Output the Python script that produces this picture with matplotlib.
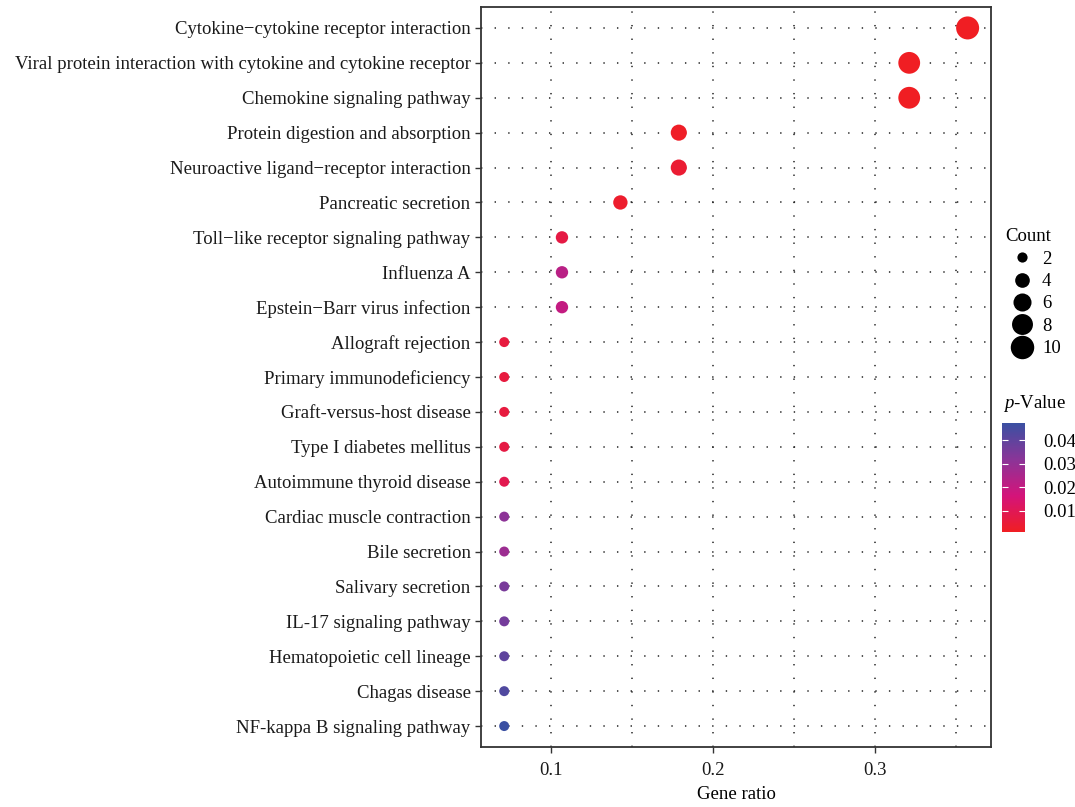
import numpy as np
import matplotlib
matplotlib.use("Agg")
import matplotlib.pyplot as plt
from matplotlib.colors import LinearSegmentedColormap, Normalize
from matplotlib.lines import Line2D

plt.rcParams['font.family'] = ['Liberation Serif', 'DejaVu Serif']
plt.rcParams['mathtext.fontset'] = 'custom'
plt.rcParams['mathtext.rm'] = 'Liberation Serif'
plt.rcParams['mathtext.it'] = 'Liberation Serif:italic'
FS = 13.5
plt.rcParams['font.size'] = FS

# pathways, top to bottom
pathways = [
    "Cytokine\u2212cytokine receptor interaction",
    "Viral protein interaction with cytokine and cytokine receptor",
    "Chemokine signaling pathway",
    "Protein digestion and absorption",
    "Neuroactive ligand\u2212receptor interaction",
    "Pancreatic secretion",
    "Toll\u2212like receptor signaling pathway",
    "Influenza A",
    "Epstein\u2212Barr virus infection",
    "Allograft rejection",
    "Primary immunodeficiency",
    "Graft-versus-host disease",
    "Type I diabetes mellitus",
    "Autoimmune thyroid disease",
    "Cardiac muscle contraction",
    "Bile secretion",
    "Salivary secretion",
    "IL-17 signaling pathway",
    "Hematopoietic cell lineage",
    "Chagas disease",
    "NF-kappa B signaling pathway",
]
counts = [10, 9, 9, 5, 5, 4, 3, 3, 3, 2, 2, 2, 2, 2, 2, 2, 2, 2, 2, 2, 2]
gene_ratio = [0.357, 0.321, 0.321, 0.179, 0.179, 0.143, 0.107, 0.107, 0.107,
              0.0714, 0.0714, 0.0714, 0.0714, 0.0714, 0.0714, 0.0714, 0.0714,
              0.0714, 0.0714, 0.0714, 0.0714]
p_values = [0.0006, 0.0010, 0.0010, 0.0020, 0.0040, 0.0030, 0.0070, 0.0220,
            0.0200, 0.0060, 0.0060, 0.0060, 0.0070, 0.0090, 0.0310, 0.0280,
            0.0350, 0.0360, 0.0400, 0.0430, 0.0470]

size_legend = [2, 4, 6, 8, 10]
p_ticks = [0.01, 0.02, 0.03, 0.04]

cmap = LinearSegmentedColormap.from_list(
    "pv", ["#F01E23", "#D4147A", "#8A3598", "#3A50A2"])
norm = Normalize(vmin=0.0011, vmax=0.0472)

px = 0.72  # points per pixel at dpi 100


def diam(c):
    # area-style scale: sqrt(count) rescaled onto a diameter range (pixels)
    lo, hi = np.sqrt(2), np.sqrt(10)
    f = (np.sqrt(c) - lo) / (hi - lo)
    return 10 + f * (23 - 10)


fig = plt.figure(figsize=(10.75, 8.07), dpi=100)
ax = fig.add_axes([481 / 1075, 1 - 747 / 807, 510 / 1075, 740 / 807])

ypos = np.arange(len(pathways))
sizes = [(diam(c) * px) ** 2 for c in counts]
ax.scatter(gene_ratio, ypos, s=sizes, c=p_values, cmap=cmap, norm=norm,
           edgecolors='none', zorder=3)

ax.set_yticks(ypos)
ax.set_yticklabels(pathways)
ax.set_ylim(len(pathways) - 0.4, -0.6)
ax.set_xlim(0.0571, 0.3714)
ax.set_xticks([0.1, 0.2, 0.3])
ax.set_xticklabels(["0.1", "0.2", "0.3"])
ax.set_xticks([0.15, 0.25, 0.35], minor=True)
ax.set_xlabel("Gene ratio", labelpad=5)

dots = (0, (0.9, 8))
ax.grid(True, which='both', axis='x', color='#222222', linewidth=1.1, linestyle=dots)
ax.grid(True, which='major', axis='y', color='#222222', linewidth=1.1, linestyle=dots)
ax.set_axisbelow(True)
ax.tick_params(axis='both', which='major', length=4, width=1, color='#333333',
               labelcolor='#1a1a1a', labelsize=FS)
ax.tick_params(axis='x', which='minor', length=0)
ax.tick_params(axis='x', pad=7)
for sp in ax.spines.values():
    sp.set_linewidth(1.3)
    sp.set_color('#333333')

# size legend
handles = [Line2D([], [], marker='o', linestyle='none', color='black',
                  markeredgewidth=0, markersize=diam(c) * px * 1.02)
           for c in size_legend]
leg = fig.legend(handles, [str(c) for c in size_legend], title="Count",
                 loc='upper left', bbox_to_anchor=(996 / 1075, 1 - 219 / 807),
                 frameon=False, fontsize=FS, title_fontsize=FS,
                 handletextpad=0.15, labelspacing=0.28, borderpad=0,
                 handlelength=1.8)
leg._legend_box.align = "left"

# colour bar for p-value
cax = fig.add_axes([1002 / 1075, 1 - 532 / 807, 23 / 1075, 109 / 807])
sm = plt.cm.ScalarMappable(cmap=cmap, norm=norm)
cb = fig.colorbar(sm, cax=cax, ticks=p_ticks)
cb.outline.set_visible(False)
cb.ax.tick_params(color='white', direction='in', length=4, width=0.8,
                  left=True, right=True, labelsize=FS, pad=13)
cb.ax.set_yticklabels([f"{t:.2f}" for t in p_ticks])
fig.text(1003 / 1075, 1 - 404 / 807, r"$p$-Value", fontsize=FS,
         va='center', ha='left')

fig.savefig("out.png", dpi=100)
